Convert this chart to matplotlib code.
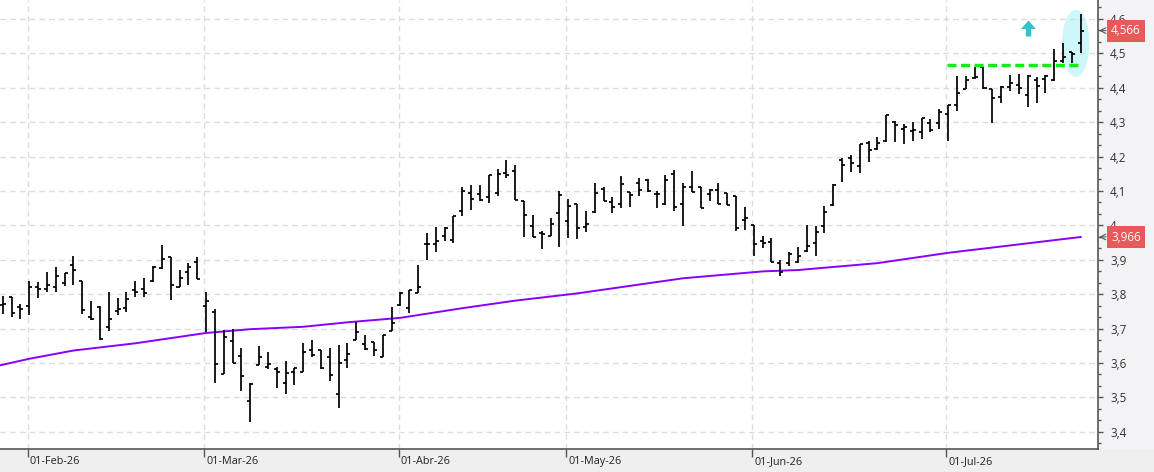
import numpy as np
import matplotlib
matplotlib.use("Agg")
import matplotlib.pyplot as plt
import matplotlib.transforms as mtransforms
from matplotlib.patches import Ellipse, Rectangle
from matplotlib.path import Path
from matplotlib.ticker import MultipleLocator, FuncFormatter

# OHLC bars (one per trading session, oldest first)
opens = [3.768, 3.793, 3.762, 3.765, 3.822, 3.816, 3.820, 3.832, 3.885, 3.838,
         3.733, 3.762, 3.703, 3.751, 3.759, 3.812, 3.815, 3.838, 3.875, 3.909,
         3.820, 3.865, 3.892, 3.765, 3.747, 3.567, 3.664, 3.619, 3.488, 3.593,
         3.589, 3.581, 3.541, 3.573, 3.575, 3.637, 3.637, 3.616, 3.509, 3.608,
         3.668, 3.654, 3.661, 3.618, 3.692, 3.767, 3.759, 3.804, 3.945, 3.945,
         3.969, 3.957, 4.042, 4.093, 4.090, 4.081, 4.094, 4.153, 4.159, 4.072,
         3.997, 3.977, 3.970, 4.036, 4.013, 4.062, 3.996, 4.040, 4.105, 4.069,
         4.062, 4.096, 4.122, 4.132, 4.091, 4.062, 4.149, 4.061, 4.111, 4.110,
         4.091, 4.103, 4.093, 4.085, 4.014, 4.001, 3.953, 3.951, 3.890, 3.890,
         3.893, 3.925, 3.948, 3.999, 4.059, 4.190, 4.195, 4.172, 4.239, 4.221,
         4.245, 4.300, 4.280, 4.274, 4.270, 4.298, 4.297, 4.325, 4.350, 4.397,
         4.428, 4.461, 4.396, 4.372, 4.401, 4.408, 4.379, 4.423, 4.425, 4.422,
         4.479, 4.503, 4.531]
highs = [3.795, 3.793, 3.771, 3.838, 3.836, 3.863, 3.878, 3.862, 3.911, 3.838,
         3.779, 3.765, 3.806, 3.789, 3.805, 3.838, 3.847, 3.882, 3.943, 3.909,
         3.870, 3.891, 3.909, 3.807, 3.757, 3.695, 3.698, 3.642, 3.541, 3.649,
         3.632, 3.587, 3.606, 3.586, 3.658, 3.667, 3.637, 3.643, 3.651, 3.657,
         3.718, 3.681, 3.661, 3.680, 3.762, 3.805, 3.812, 3.885, 3.978, 3.995,
         3.996, 4.027, 4.112, 4.117, 4.117, 4.146, 4.163, 4.190, 4.174, 4.072,
         4.029, 3.984, 4.020, 4.100, 4.077, 4.062, 4.042, 4.123, 4.110, 4.081,
         4.142, 4.098, 4.137, 4.134, 4.100, 4.146, 4.161, 4.124, 4.158, 4.111,
         4.106, 4.122, 4.093, 4.085, 4.052, 4.001, 3.969, 3.962, 3.899, 3.922,
         3.937, 4.001, 3.998, 4.056, 4.121, 4.195, 4.205, 4.236, 4.244, 4.256,
         4.322, 4.304, 4.294, 4.299, 4.311, 4.310, 4.337, 4.351, 4.434, 4.434,
         4.461, 4.461, 4.396, 4.406, 4.437, 4.440, 4.437, 4.430, 4.437, 4.512,
         4.531, 4.503, 4.614]
lows = [3.741, 3.733, 3.727, 3.738, 3.788, 3.807, 3.805, 3.824, 3.827, 3.741,
        3.724, 3.666, 3.692, 3.738, 3.749, 3.793, 3.793, 3.836, 3.872, 3.784,
        3.820, 3.826, 3.843, 3.691, 3.543, 3.567, 3.599, 3.519, 3.429, 3.593,
        3.582, 3.528, 3.510, 3.537, 3.575, 3.616, 3.581, 3.548, 3.468, 3.586,
        3.666, 3.637, 3.619, 3.618, 3.692, 3.765, 3.746, 3.804, 3.899, 3.921,
        3.953, 3.950, 4.028, 4.045, 4.072, 4.066, 4.086, 4.137, 4.074, 3.967,
        3.967, 3.932, 3.969, 3.938, 3.963, 3.961, 3.982, 4.037, 4.072, 4.035,
        4.051, 4.054, 4.086, 4.098, 4.051, 4.059, 4.043, 3.999, 4.098, 4.049,
        4.072, 4.061, 4.058, 3.983, 3.987, 3.911, 3.933, 3.892, 3.854, 3.883,
        3.890, 3.921, 3.912, 3.977, 4.056, 4.127, 4.156, 4.153, 4.185, 4.219,
        4.243, 4.242, 4.235, 4.244, 4.251, 4.271, 4.281, 4.245, 4.333, 4.396,
        4.425, 4.396, 4.297, 4.357, 4.389, 4.382, 4.343, 4.357, 4.386, 4.420,
        4.471, 4.471, 4.500]
closes = [3.771, 3.746, 3.757, 3.820, 3.814, 3.827, 3.853, 3.860, 3.870, 3.754,
          3.729, 3.670, 3.727, 3.758, 3.787, 3.806, 3.802, 3.880, 3.901, 3.826,
          3.846, 3.878, 3.845, 3.780, 3.596, 3.674, 3.599, 3.561, 3.539, 3.616,
          3.596, 3.573, 3.570, 3.584, 3.632, 3.622, 3.584, 3.564, 3.599, 3.625,
          3.690, 3.640, 3.637, 3.680, 3.716, 3.803, 3.811, 3.821, 3.945, 3.955,
          3.993, 4.027, 4.101, 4.076, 4.073, 4.146, 4.149, 4.146, 4.075, 4.029,
          3.967, 3.974, 4.004, 4.088, 4.055, 3.991, 4.004, 4.093, 4.072, 4.052,
          4.119, 4.088, 4.103, 4.100, 4.091, 4.132, 4.052, 4.111, 4.098, 4.049,
          4.103, 4.061, 4.058, 3.991, 4.020, 3.946, 3.948, 3.892, 3.865, 3.918,
          3.911, 3.941, 3.982, 4.038, 4.117, 4.174, 4.180, 4.236, 4.219, 4.240,
          4.322, 4.292, 4.285, 4.277, 4.311, 4.277, 4.329, 4.351, 4.384, 4.423,
          4.432, 4.398, 4.369, 4.401, 4.415, 4.398, 4.434, 4.405, 4.434, 4.478,
          4.489, 4.497, 4.566]

# long moving average, read at a few bars (bar index, value)
ma_bar = [-1, 3, 8, 15, 23, 28, 34, 39, 45, 52, 58, 65, 77, 86, 90, 99, 107, 122]
ma_val = [3.589, 3.612, 3.636, 3.657, 3.687, 3.698, 3.705, 3.718, 3.731, 3.759,
          3.781, 3.802, 3.846, 3.866, 3.870, 3.890, 3.920, 3.966]

# first session of each month and its label
month_bar = [3, 23, 45, 64, 85, 107]
month_lbl = ["01-Feb-26", "01-Mar-26", "01-Abr-26", "01-May-26", "01-Jun-26", "01-Jul-26"]

resist_level = 4.466
resist_from, resist_to = 107, 122
ma_last = 3.966

plt.rcParams['font.family'] = ['Open Sans', 'DejaVu Sans']

W, H = 1154, 472
fig = plt.figure(figsize=(W / 100, H / 100), dpi=100, facecolor='#f3f3f5')
fig.patches.append(Rectangle((0, 0), 1, 23 / H, transform=fig.transFigure,
                             facecolor='#efefef', edgecolor='none', zorder=-10))
ax = fig.add_axes([0, 23 / H, 1098 / W, 449 / H])
ax.set_facecolor('white')

x = np.arange(len(closes))
ax.set_xlim(-0.317, 123.96)
ax.set_ylim(3.3497, 4.655)

# highlight ellipse on the breakout bars
ax.add_patch(Ellipse((121.44, 4.529), 3.1, 0.195, facecolor='#cdf7fb',
                     edgecolor='none', zorder=1))

# OHLC bars
tick = 0.34
ax.vlines(x, lows, highs, color='black', lw=1.25, zorder=3)
ax.hlines(opens, x - tick, x, color='black', lw=1.25, zorder=3)
ax.hlines(closes, x, x + tick, color='black', lw=1.25, zorder=3)

# moving average
ax.plot(ma_bar, ma_val, color='#8a00ff', lw=1.4, zorder=2)

# resistance line
ax.plot([resist_from - 0.1, resist_to], [resist_level, resist_level], color='#11ee11',
        lw=2.5, ls=(0, (2.6, 1.3)), zorder=4, solid_capstyle='butt')

# up arrow marker
arrow = Path([(-0.17, -0.5), (0.17, -0.5), (0.17, -0.03), (0.47, -0.03), (0, 0.5),
              (-0.47, -0.03), (-0.17, -0.03), (-0.17, -0.5)], closed=True)
ax.plot([116.0], [4.574], marker=arrow, markersize=11.5, color='#33c4c8',
        markeredgewidth=0, zorder=5)

# axes styling
for s in ['left', 'top']:
    ax.spines[s].set_visible(False)
for s in ['right', 'bottom']:
    ax.spines[s].set_color('#555555')
    ax.spines[s].set_linewidth(1.2)

ax.yaxis.tick_right()
ax.yaxis.set_major_locator(MultipleLocator(0.1))
ax.yaxis.set_minor_locator(MultipleLocator(0.1 / 3))
ax.yaxis.set_major_formatter(FuncFormatter(
    lambda v, p: ("%.1f" % v).replace('.0', '').replace('.', ',')))
ax.tick_params(axis='y', which='major', length=3.6, width=1, color='#555555',
               pad=5, labelsize=8.4, labelcolor='#333333')
ax.tick_params(axis='y', which='minor', length=2.2, width=1, color='#555555')

ax.set_xticks([m - 0.2 for m in month_bar])
ax.set_xticklabels([])
ax.tick_params(axis='x', length=5.5, width=1, color='#555555')
ax.grid(True, which='major', color='#dcdcdc', lw=1, ls=(0, (4, 3)), zorder=0)

off = mtransforms.ScaledTranslation(2 / 100, -12.5 / 100, fig.dpi_scale_trans)
trans = mtransforms.blended_transform_factory(ax.transData, ax.transAxes) + off
for m, lbl in zip(month_bar, month_lbl):
    ax.text(m - 0.2, 0, lbl, transform=trans, ha='left', va='center',
            fontsize=7.8, color='#222222', clip_on=False)

# price flags on the right axis
ftrans = mtransforms.blended_transform_factory(fig.transFigure, ax.transData)
for v in [closes[-1], ma_last]:
    fig.text(1111 / W, v, ("%.3f" % v).replace('.', ','), transform=ftrans,
             ha='left', va='center', fontsize=8.4, color='white',
             bbox=dict(boxstyle='square,pad=0.38', facecolor='#e85a5a',
                       edgecolor='none'))
    ax.annotate('', xy=(1099 / W, v), xycoords=ftrans, xytext=(1106 / W, v),
                textcoords=ftrans,
                arrowprops=dict(arrowstyle='->', color='#555555', lw=0.8,
                                shrinkA=0, shrinkB=0))

fig.savefig('out.png', dpi=100, facecolor=fig.get_facecolor())
